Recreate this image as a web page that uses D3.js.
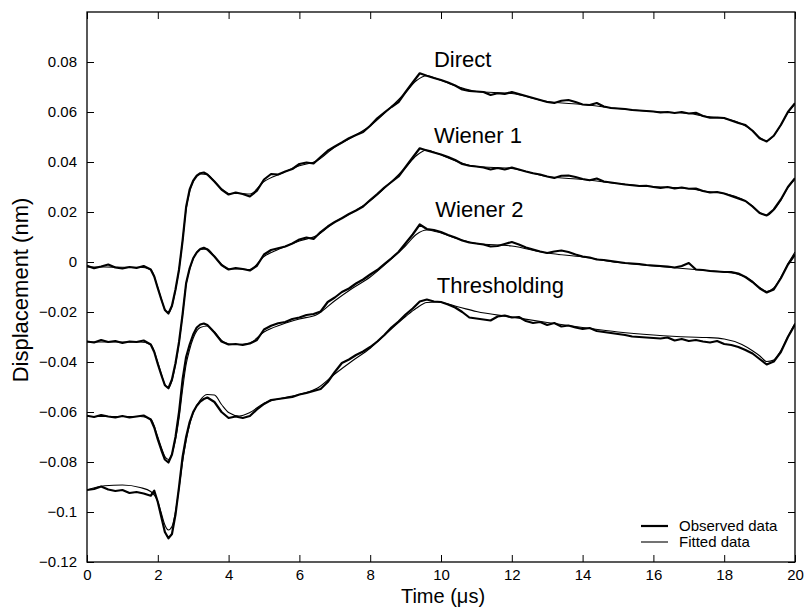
<!DOCTYPE html>
<html><head><meta charset="utf-8">
<script src="https://cdn.jsdelivr.net/npm/d3@7"></script>
<style>
body{margin:0;background:#fff}
svg{display:block}
text{font-family:"Liberation Sans",Arial,Helvetica,sans-serif;fill:#000}
</style>
</head><body>
<svg id="chart" width="809" height="607"></svg>
<script>
// ---------- DATA ----------
const xTicks = [0,2,4,6,8,10,12,14,16,18,20];
const xTickLabels = ["0","2","4","6","8","10","12","14","16","18","20"];
const yTicks = [-0.12,-0.1,-0.08,-0.06,-0.04,-0.02,0,0.02,0.04,0.06,0.08];
const yTickLabels = ["\u22120.12","\u22120.1","\u22120.08","\u22120.06","\u22120.04","\u22120.02","0","0.02","0.04","0.06","0.08"];
const seriesNames = ["Direct","Wiener 1","Wiener 2","Thresholding"];
const legendLabels = ["Observed data","Fitted data"];

// time grid of observed samples (µs)
const obsTime = [
  0,0.2,0.4,0.6,0.8,1.0,1.2,1.4,1.6,1.8,
  1.9,2.0,2.1,2.2,2.3,2.4,2.5,2.6,2.7,2.8,2.9,3.0,3.1,3.2,3.3,3.4,
  3.6,3.8,4.0,4.2,4.4,4.6,4.8,5.0,5.2,5.4,5.6,5.8,6.0,6.2,6.4,6.6,6.8,7.0,7.2,7.4,
  7.6,7.8,8.0,8.2,8.4,8.6,8.8,9.0,9.2,9.4,9.6,9.8,10.0,10.2,10.4,10.6,10.8,11.0,11.2,11.4,
  11.6,11.8,12.0,12.2,12.4,12.6,12.8,13.0,13.2,13.4,13.6,13.8,14.0,14.2,14.4,14.6,14.8,15.0,15.2,15.4,
  15.6,15.8,16.0,16.2,16.4,16.6,16.8,17.0,17.2,17.4,17.6,17.8,18.0,18.2,18.4,18.6,18.8,19.0,19.2,19.4,
  19.6,19.8,20.0
];

const directObserved = [
  -0.0015,-0.0025,-0.0018,-0.0010,-0.0022,-0.0026,-0.0020,-0.0024,-0.0016,-0.0030,
  -0.0058,-0.0105,-0.0150,-0.0192,-0.0206,-0.0175,-0.0110,-0.0030,0.0085,0.0220,0.0290,0.0325,0.0345,0.0355,0.0358,0.0350,
  0.0322,0.0290,0.0270,0.0278,0.0272,0.0262,0.0285,0.0330,0.0352,0.0350,0.0362,0.0372,0.0392,0.0398,0.0394,0.0420,0.0445,0.0462,0.0478,0.0495,
  0.0508,0.0520,0.0545,0.0575,0.0598,0.0620,0.0640,0.0680,0.0718,0.0755,0.0745,0.0736,0.0728,0.0718,0.0706,0.0690,0.0684,0.0682,0.0680,0.0668,
  0.0675,0.0672,0.0680,0.0672,0.0664,0.0656,0.0648,0.0640,0.0636,0.0645,0.0648,0.0640,0.0630,0.0628,0.0636,0.0622,0.0616,0.0614,0.0612,0.0608,
  0.0606,0.0604,0.0602,0.0598,0.0600,0.0596,0.0600,0.0594,0.0597,0.0584,0.0577,0.0578,0.0576,0.0566,0.0556,0.0548,0.0525,0.0495,0.0482,0.0505,
  0.0548,0.0600,0.0635
];
const wiener1Observed = [
  -0.0318,-0.0322,-0.0312,-0.0320,-0.0316,-0.0324,-0.0318,-0.0320,-0.0314,-0.0330,
  -0.0360,-0.0408,-0.0452,-0.0493,-0.0505,-0.0470,-0.0405,-0.0320,-0.0210,-0.0085,-0.0025,0.0015,0.0038,0.0052,0.0057,0.0050,
  0.0022,-0.0012,-0.0030,-0.0024,-0.0028,-0.0034,-0.0015,0.0030,0.0048,0.0055,0.0062,0.0074,0.0090,0.0098,0.0092,0.0120,0.0142,0.0160,0.0175,0.0192,
  0.0206,0.0222,0.0248,0.0272,0.0298,0.0320,0.0342,0.0380,0.0418,0.0455,0.0446,0.0438,0.0430,0.0420,0.0408,0.0392,0.0385,0.0382,0.0378,0.0370,
  0.0376,0.0370,0.0378,0.0370,0.0362,0.0355,0.0350,0.0342,0.0336,0.0345,0.0346,0.0340,0.0332,0.0327,0.0334,0.0322,0.0318,0.0314,0.0310,0.0307,
  0.0304,0.0305,0.0300,0.0296,0.0300,0.0294,0.0298,0.0293,0.0294,0.0284,0.0278,0.0280,0.0274,0.0264,0.0254,0.0244,0.0222,0.0196,0.0186,0.0210,
  0.0250,0.0300,0.0335
];
const wiener2Observed = [
  -0.0615,-0.0620,-0.0612,-0.0618,-0.0622,-0.0616,-0.0622,-0.0618,-0.0614,-0.0630,
  -0.0662,-0.0710,-0.0752,-0.0790,-0.0802,-0.0770,-0.0700,-0.0600,-0.0470,-0.0380,-0.0330,-0.0290,-0.0262,-0.0250,-0.0246,-0.0252,
  -0.0282,-0.0318,-0.0330,-0.0328,-0.0332,-0.0326,-0.0312,-0.0270,-0.0255,-0.0245,-0.0240,-0.0228,-0.0222,-0.0212,-0.0208,-0.0198,-0.0160,-0.0142,-0.0120,-0.0106,
  -0.0086,-0.0070,-0.0050,-0.0032,-0.0008,0.0015,0.0040,0.0075,0.0110,0.0150,0.0132,0.0128,0.0120,0.0108,0.0098,0.0086,0.0078,0.0074,0.0070,0.0062,
  0.0064,0.0072,0.0080,0.0070,0.0058,0.0050,0.0042,0.0036,0.0042,0.0046,0.0040,0.0030,0.0022,0.0018,0.0010,0.0008,0.0004,0.0000,-0.0004,-0.0006,
  -0.0008,-0.0012,-0.0014,-0.0016,-0.0018,-0.0022,-0.0016,-0.0004,-0.0030,-0.0032,-0.0036,-0.0038,-0.0040,-0.0040,-0.0046,-0.0060,-0.0080,-0.0105,-0.0122,-0.0110,
  -0.0065,-0.0010,0.0030
];
const thresholdingObserved = [
  -0.0912,-0.0908,-0.0898,-0.0910,-0.0916,-0.0912,-0.0924,-0.0920,-0.0926,-0.0935,
  -0.0915,-0.0960,-0.1020,-0.1080,-0.1105,-0.1088,-0.1010,-0.0900,-0.0780,-0.0700,-0.0640,-0.0600,-0.0575,-0.0558,-0.0548,-0.0542,
  -0.0560,-0.0600,-0.0624,-0.0618,-0.0624,-0.0616,-0.0590,-0.0568,-0.0552,-0.0548,-0.0544,-0.0540,-0.0530,-0.0524,-0.0516,-0.0508,-0.0480,-0.0440,-0.0404,-0.0390,
  -0.0372,-0.0358,-0.0340,-0.0318,-0.0292,-0.0262,-0.0238,-0.0210,-0.0186,-0.0158,-0.0150,-0.0158,-0.0160,-0.0170,-0.0182,-0.0200,-0.0222,-0.0226,-0.0230,-0.0234,
  -0.0218,-0.0214,-0.0222,-0.0220,-0.0236,-0.0244,-0.0240,-0.0252,-0.0244,-0.0258,-0.0254,-0.0262,-0.0268,-0.0264,-0.0276,-0.0280,-0.0284,-0.0288,-0.0292,-0.0298,
  -0.0300,-0.0302,-0.0304,-0.0306,-0.0302,-0.0314,-0.0308,-0.0316,-0.0312,-0.0318,-0.0322,-0.0316,-0.0328,-0.0332,-0.0340,-0.0352,-0.0366,-0.0388,-0.0410,-0.0398,
  -0.0360,-0.0300,-0.0250
];

// time grid of fitted curves (µs)
const fitTime = [
  0,0.5,1.0,1.5,1.8,
  2.0,2.1,2.2,2.3,2.4,2.5,2.6,2.7,2.8,2.9,3.0,
  3.2,3.4,3.6,3.8,4.0,4.3,4.6,5.0,
  5.5,6.0,6.5,7.0,7.5,8.0,8.5,9.0,9.3,9.6,9.9,10.5,11.0,
  12,13,14,15,16,17,17.5,18,18.5,18.8,
  19.0,19.2,19.4,19.6,19.8,20.0
];
const directFitted = [
  -0.0020,-0.0020,-0.0021,-0.0021,-0.0030,
  -0.0102,-0.0148,-0.0190,-0.0203,-0.0176,-0.0112,-0.0030,0.0085,0.0210,0.0282,0.0322,
  0.0352,0.0350,0.0322,0.0292,0.0274,0.0274,0.0272,0.0322,
  0.0355,0.0385,0.0405,0.0460,0.0500,0.0545,0.0608,0.0678,0.0725,0.0745,0.0732,0.0700,0.0682,
  0.0674,0.0642,0.0630,0.0614,0.0602,0.0594,0.0582,0.0574,0.0552,0.0525,
  0.0498,0.0484,0.0505,0.0548,0.0598,0.0632
];
const wiener1Fitted = [
  -0.0320,-0.0320,-0.0320,-0.0320,-0.0330,
  -0.0402,-0.0448,-0.0490,-0.0503,-0.0474,-0.0410,-0.0325,-0.0210,-0.0090,-0.0030,0.0012,
  0.0050,0.0052,0.0022,-0.0010,-0.0028,-0.0028,-0.0030,0.0022,
  0.0056,0.0084,0.0106,0.0160,0.0198,0.0245,0.0308,0.0378,0.0425,0.0448,0.0434,0.0400,0.0382,
  0.0374,0.0342,0.0330,0.0314,0.0302,0.0294,0.0282,0.0274,0.0252,0.0224,
  0.0198,0.0186,0.0208,0.0248,0.0298,0.0332
];
const wiener2Fitted = [
  -0.0618,-0.0618,-0.0618,-0.0618,-0.0628,
  -0.0700,-0.0742,-0.0778,-0.0790,-0.0768,-0.0710,-0.0625,-0.0510,-0.0410,-0.0350,-0.0305,
  -0.0262,-0.0256,-0.0280,-0.0314,-0.0328,-0.0330,-0.0324,-0.0280,
  -0.0250,-0.0228,-0.0210,-0.0155,-0.0105,-0.0060,0.0000,0.0065,0.0110,0.0128,0.0120,0.0092,0.0074,
  0.0064,0.0036,0.0020,-0.0002,-0.0016,-0.0028,-0.0034,-0.0040,-0.0054,-0.0078,
  -0.0102,-0.0118,-0.0104,-0.0062,-0.0008,0.0040
];
const thresholdingFitted = [
  -0.0912,-0.0895,-0.0892,-0.0902,-0.0918,
  -0.0958,-0.1005,-0.1052,-0.1072,-0.1058,-0.0998,-0.0905,-0.0800,-0.0715,-0.0650,-0.0605,
  -0.0552,-0.0530,-0.0532,-0.0570,-0.0602,-0.0616,-0.0602,-0.0565,
  -0.0545,-0.0530,-0.0505,-0.0448,-0.0395,-0.0345,-0.0280,-0.0218,-0.0185,-0.0162,-0.0160,-0.0180,-0.0198,
  -0.0220,-0.0242,-0.0262,-0.0280,-0.0292,-0.0300,-0.0302,-0.0308,-0.0330,-0.0355,
  -0.0375,-0.0398,-0.0392,-0.0355,-0.0298,-0.0245
];

const observedSeries = [directObserved, wiener1Observed, wiener2Observed, thresholdingObserved];
const fittedSeries = [directFitted, wiener1Fitted, wiener2Fitted, thresholdingFitted];

// ---------- LAYOUT ----------
const L = 87, R = 795, T = 12, B = 562;
// label anchors in data coordinates [time, displacement]
const labelAnchors = [[9.8, 0.078], [9.8, 0.0476], [9.84, 0.018], [9.88, -0.0124]];

const svg = d3.select("#chart");
const x = d3.scaleLinear().domain([0, 20]).range([L, R]);
const y = d3.scaleLinear().domain([-0.12, 0.1]).range([B, T]);

svg.append("defs").append("clipPath").attr("id", "plotclip")
  .append("rect").attr("x", L).attr("y", T).attr("width", R - L).attr("height", B - T);

const plot = svg.append("g").attr("clip-path", "url(#plotclip)");

const fitLine = d3.line().x((d, i) => x(fitTime[i])).y(d => y(d)).curve(d3.curveMonotoneX);
const obsLine = d3.line().x((d, i) => x(obsTime[i])).y(d => y(d));

plot.selectAll("path.fit").data(fittedSeries).join("path")
  .attr("class", "fit").attr("d", fitLine)
  .attr("fill", "none").attr("stroke", "#000").attr("stroke-width", 1.1);

plot.selectAll("path.obs").data(observedSeries).join("path")
  .attr("class", "obs").attr("d", obsLine)
  .attr("fill", "none").attr("stroke", "#000").attr("stroke-width", 2.2)
  .attr("stroke-linejoin", "round");

// axes (ticks pointing inward)
function styleAxis(g) {
  g.select(".domain").remove();
  g.selectAll(".tick line").attr("stroke", "#000").attr("stroke-width", 1);
  g.selectAll(".tick text").attr("font-size", "15px").attr("font-family", "'Liberation Sans',Arial,sans-serif").attr("fill", "#000");
  g.attr("font-family", null).attr("font-size", null);
}
svg.append("g").attr("transform", `translate(0,${B})`)
  .call(d3.axisBottom(x).tickValues(xTicks).tickFormat((d, i) => xTickLabels[i]).tickSizeInner(-7).tickSizeOuter(0).tickPadding(7))
  .call(styleAxis);
svg.append("g").attr("transform", `translate(0,${T})`)
  .call(d3.axisTop(x).tickValues(xTicks).tickFormat("").tickSizeInner(-7).tickSizeOuter(0))
  .call(styleAxis);
svg.append("g").attr("transform", `translate(${L},0)`)
  .call(d3.axisLeft(y).tickValues(yTicks).tickFormat((d, i) => yTickLabels[i]).tickSizeInner(-7).tickSizeOuter(0).tickPadding(10))
  .call(styleAxis);
svg.append("g").attr("transform", `translate(${R},0)`)
  .call(d3.axisRight(y).tickValues(yTicks).tickFormat("").tickSizeInner(-7).tickSizeOuter(0))
  .call(styleAxis);

// frame
svg.append("rect").attr("x", L).attr("y", T).attr("width", R - L).attr("height", B - T)
  .attr("fill", "none").attr("stroke", "#000").attr("stroke-width", 1.3);

// series labels
svg.selectAll("text.slabel").data(seriesNames).join("text")
  .attr("class", "slabel")
  .attr("x", (d, i) => x(labelAnchors[i][0]))
  .attr("y", (d, i) => y(labelAnchors[i][1]))
  .attr("font-size", "22px")
  .text(d => d);

// axis titles
svg.append("text").attr("x", 443).attr("y", 603).attr("text-anchor", "middle")
  .attr("font-size", "20px").text("Time (\u03bcs)");
svg.append("text").attr("transform", "translate(28,290) rotate(-90)").attr("text-anchor", "middle")
  .attr("font-size", "22px").text("Displacement (nm)");

// legend
const legend = svg.append("g");
const legY = [526, 542];
legend.selectAll("line").data(legendLabels).join("line")
  .attr("x1", 641).attr("x2", 668)
  .attr("y1", (d, i) => legY[i]).attr("y2", (d, i) => legY[i])
  .attr("stroke", "#000").attr("stroke-width", (d, i) => i === 0 ? 2.2 : 1.1);
legend.selectAll("text").data(legendLabels).join("text")
  .attr("x", 679).attr("y", (d, i) => legY[i]).attr("dy", "0.35em")
  .attr("font-size", "15px").text(d => d);
</script>
</body></html>
